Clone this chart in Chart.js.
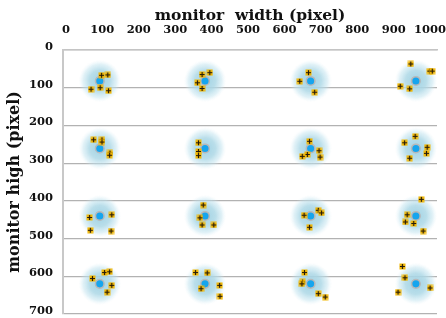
<!DOCTYPE html>
<html>
<head>
<meta charset="utf-8">
<script src="https://cdn.jsdelivr.net/npm/chart.js@4"></script>
<style>
  html,body{margin:0;padding:0;background:#fff;}
  canvas{display:block;}
</style>
</head>
<body>
<canvas id="chartGaze" width="446" height="318"></canvas>
<script>
/***** DATA *****/
const xTicks = [0,100,200,300,400,500,600,700,800,900,1000];
const yTicks = [0,100,200,300,400,500,600,700];

// calibration targets (blue dots)
const targetX = [93,382,672,961, 93,382,672,961, 93,382,672,961, 93,382,672,961];
const targetY = [82,82,82,82, 261,261,261,261, 440,440,440,440, 620,620,620,620];

// gaze estimates (+ markers)
const gazeX = [
  98,115,69,94,117,
  374,395,361,374,
  666,642,683,
  947,999,1006,918,944,
  76,99,99,121,120,
  364,364,364,
  669,695,698,663,649,
  959,930,992,990,944,
  65,126,67,124,
  377,374,406,368,
  654,693,702,669,
  976,937,932,955,981,
  73,106,120,126,113,
  356,388,422,371,423,
  655,650,648,693,712,
  924,931,912,1000
];
const gazeY = [
  67,66,104,100,108,
  65,60,87,102,
  60,83,112,
  37,56,56,96,103,
  238,238,244,273,279,
  246,269,280,
  242,267,284,277,282,
  229,246,258,274,287,
  444,437,478,480,
  411,464,464,445,
  438,425,432,470,
  396,437,456,460,480,
  606,590,588,624,642,
  590,591,624,633,653,
  590,615,620,646,655,
  574,604,642,631
];

/***** HELPERS *****/
const FONT = "'DejaVu Serif', 'Liberation Serif', serif";

function glowImage(r){
  const c = document.createElement("canvas");
  c.width = c.height = r*2;
  const g = c.getContext("2d");
  const grd = g.createRadialGradient(r,r,0,r,r,r);
  grd.addColorStop(0,   "rgba(160,210,228,1)");
  grd.addColorStop(0.5, "rgba(173,216,230,0.85)");
  grd.addColorStop(0.8, "rgba(190,226,238,0.45)");
  grd.addColorStop(1,   "rgba(220,240,247,0)");
  g.fillStyle = grd;
  g.fillRect(0,0,r*2,r*2);
  return c;
}

function plusImage(){
  const s = 7, c = document.createElement("canvas");
  c.width = c.height = s;
  const g = c.getContext("2d");
  g.fillStyle = "#f2b705";
  g.fillRect(0.5,0.5,6,6);
  g.strokeStyle = "#241a08";
  g.lineWidth = 1.2;
  g.beginPath();
  g.moveTo(1,3.5); g.lineTo(6,3.5);
  g.moveTo(3.5,1); g.lineTo(3.5,6);
  g.stroke();
  return c;
}

const pts = (xs, ys) => xs.map((x,i) => ({x, y: ys[i]}));

/***** CHART *****/
const glow = glowImage(21);
const plus = plusImage();

new Chart(document.getElementById("chartGaze").getContext("2d"), {
  type: "scatter",
  data: {
    datasets: [
      { label: "gaze", data: pts(gazeX, gazeY), pointStyle: plus, pointRadius: 3.5 },
      { label: "target", data: pts(targetX, targetY), pointRadius: 4.3,
        backgroundColor: "#16a5ee", borderColor: "#b9b9b9", borderWidth: 1.5 },
      { label: "glow", data: pts(targetX, targetY), pointStyle: glow, pointRadius: 21 }
    ]
  },
  options: {
    responsive: false,
    animation: false,
    layout: { autoPadding: false, padding: { top: 0, left: 0, right: 9, bottom: 4 } },
    plugins: { legend: { display: false }, tooltip: { enabled: false } },
    scales: {
      x: {
        type: "linear", position: "top", min: -8, max: 1019,
        afterBuildTicks: s => { s.ticks = xTicks.map(v => ({ value: v })); },
        afterFit: s => { s.height = 50; s.paddingLeft = 0; s.paddingRight = 0; },
        grid: { display: false },
        border: { display: true, color: "#c4c4c4", width: 1.5 },
        ticks: { color: "#111", padding: 5, maxRotation: 0, autoSkip: false,
                 callback: v => String(v),
                 font: { family: FONT, size: 11.5, weight: "bold" } },
        title: { display: true, text: "monitor  width (pixel)", color: "#111",
                 padding: { top: 7, bottom: 0 },
                 font: { family: FONT, size: 15.5, weight: "bold" } }
      },
      y: {
        type: "linear", reverse: true, min: 0, max: 700,
        afterBuildTicks: s => { s.ticks = yTicks.map(v => ({ value: v })); },
        afterFit: s => { s.width = 63; s.paddingTop = 0; s.paddingBottom = 0; },
        grid: { color: "#b2b2b2", drawTicks: false, lineWidth: 1.2 },
        border: { display: true, color: "#c8c8c8", width: 2 },
        ticks: { color: "#111", padding: 10, labelOffset: -3, autoSkip: false,
                 callback: v => String(v),
                 font: { family: FONT, size: 11.5, weight: "bold" } },
        title: { display: true, text: "monitor high (pixel)", color: "#111",
                 padding: { top: 5, bottom: 0 },
                 font: { family: FONT, size: 16, weight: "bold" } }
      }
    }
  }
});
</script>
</body>
</html>
